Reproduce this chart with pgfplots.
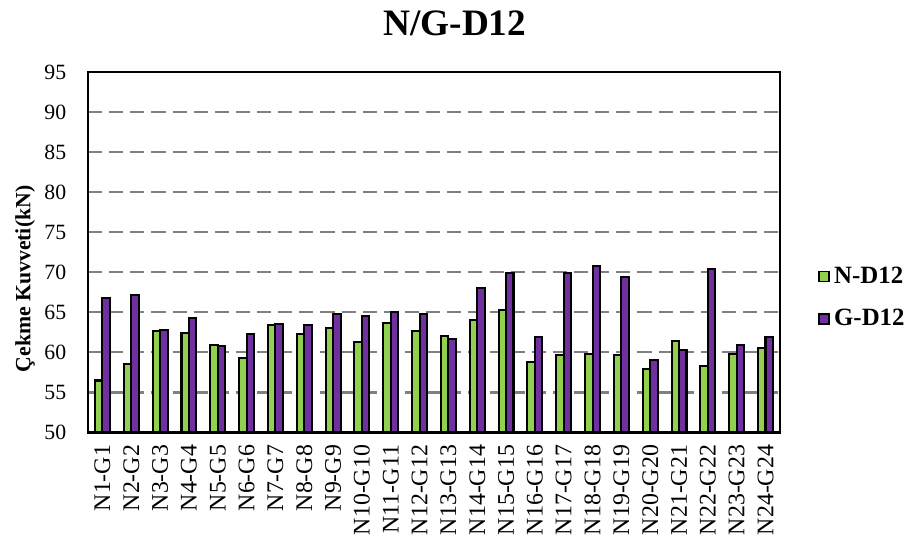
\documentclass[border=0pt]{standalone}
\usepackage{pgfplots}
\pgfplotsset{compat=1.18}
\usepackage{fontspec}
\setmainfont{Liberation Serif}
\definecolor{ngreen}{HTML}{92D050}
\definecolor{gpurple}{HTML}{7030A0}

\begin{document}
\begin{tikzpicture}
% page frame matching the reference margins (axis box is 334pt x 174pt at the origin)
\useasboundingbox (-42.5pt,-52.2pt) rectangle (396.3pt,208.8pt);
\begin{axis}[
  at={(0,0)}, anchor=south west,
  width=334pt, height=174pt, scale only axis,
  ybar=0pt, bar width=3.6pt,
  ymin=50, ymax=95, ytick={50,55,...,95},
  xmin=-0.5, xmax=23.5,
  xtick={0,...,23},
  xticklabels={N1-G1,N2-G2,N3-G3,N4-G4,N5-G5,N6-G6,N7-G7,N8-G8,N9-G9,N10-G10,N11-G11,N12-G12,N13-G13,N14-G14,N15-G15,N16-G16,N17-G17,N18-G18,N19-G19,N20-G20,N21-G21,N22-G22,N23-G23,N24-G24},
  x tick label style={rotate=90, anchor=east, font=\fontsize{11.5}{13}\selectfont},
  y tick label style={font=\fontsize{10.5}{12}\selectfont},
  xticklabel shift=2.5pt, yticklabel shift=7pt,
  /pgf/number format/assume math mode=true,
  major tick length=0pt,
  axis line style={black, line width=1pt},
  ymajorgrids, grid style={dash pattern=on 6.8pt off 3.4pt, gray, line width=1pt},
  ylabel={\textbf{Çekme Kuvveti(kN)}},
  ylabel style={font=\fontsize{10.5}{12}\selectfont, at={(rel axis cs:-0.091,0.426)}, anchor=center},
  title={\textbf{N/G-D12}},
  title style={font=\fontsize{18}{21}\selectfont, at={(rel axis cs:0.53,1.102)}, anchor=center},
  legend style={at={(rel axis cs:1.055,0.374)}, anchor=west, draw=none, fill=none,
    font=\bfseries\fontsize{12}{14}\selectfont, row sep=7pt, inner sep=0pt},
  legend cell align=left,
  legend image code/.code={\draw[#1, line width=0.8pt] (0pt,-2.4pt) rectangle (4.8pt,2.4pt);},
  every axis plot/.append style={draw=black, line width=1pt},
]
\addplot[fill=ngreen] coordinates {
(0,56.5) (1,58.5) (2,62.7) (3,62.4) (4,60.9) (5,59.3) (6,63.4) (7,62.3)
(8,63.0) (9,61.3) (10,63.7) (11,62.7) (12,62.1) (13,64.0) (14,65.3) (15,58.8)
(16,59.7) (17,59.8) (18,59.7) (19,57.9) (20,61.4) (21,58.3) (22,59.8) (23,60.5)};
\addplot[fill=gpurple] coordinates {
(0,66.8) (1,67.2) (2,62.8) (3,64.3) (4,60.8) (5,62.3) (6,63.5) (7,63.4)
(8,64.8) (9,64.5) (10,65.1) (11,64.8) (12,61.7) (13,68.0) (14,69.9) (15,61.9)
(16,69.9) (17,70.8) (18,69.4) (19,59.0) (20,60.3) (21,70.4) (22,60.9) (23,61.9)};
\legend{N-D12, G-D12}
\end{axis}
\end{tikzpicture}
\end{document}
